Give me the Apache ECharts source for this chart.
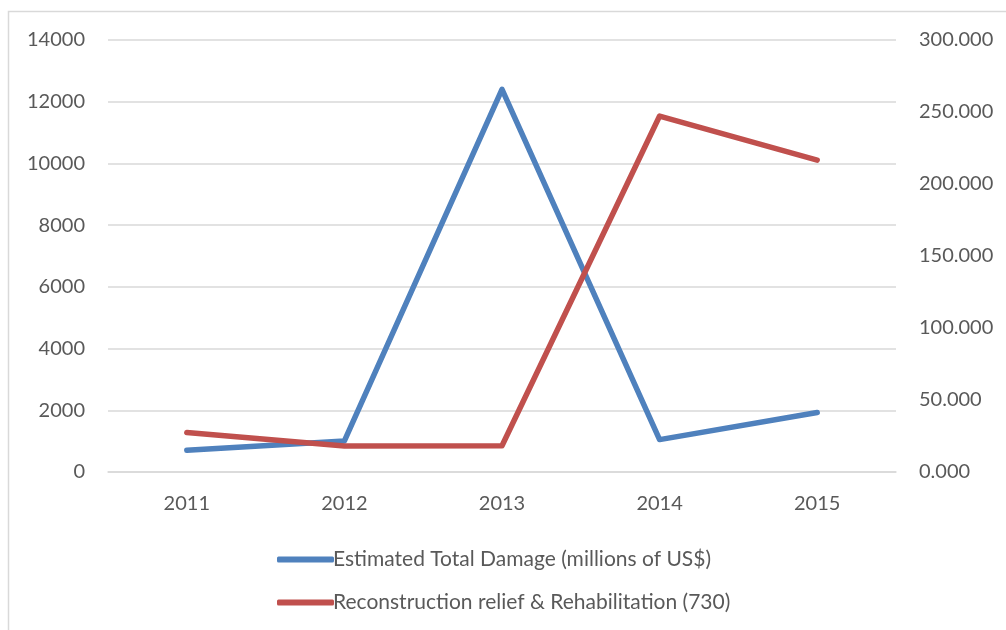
<!DOCTYPE html>
<html>
<head>
<meta charset="utf-8">
<script src="https://cdn.jsdelivr.net/npm/echarts@6/dist/echarts.min.js"></script>
<style>
  html, body { margin: 0; padding: 0; background: #ffffff; }
  #chart { width: 1006px; height: 630px; }
</style>
</head>
<body>
<div id="chart"></div>
<script>
// Years on the category axis
const years = ['2011', '2012', '2013', '2014', '2015'];

// Estimated total damage, millions of US$ (left axis)
const damageName = 'Estimated Total Damage (millions of US$)';
const damage = [705, 1005, 12400, 1050, 1930];

// Reconstruction relief & rehabilitation (right axis)
const reliefName = 'Reconstruction relief & Rehabilitation (730)';
const relief = [27.4, 18.1, 18.2, 247.2, 216.6];

// Axis tick settings
const leftMax = 14000, leftStep = 2000;
const rightMax = 300, rightStep = 50;

const textColor = '#595959';
const gridColor = '#d9d9d9';
const font = 'Lato, "Open Sans", sans-serif';

const chart = echarts.init(document.getElementById('chart'), null, { renderer: 'canvas' });

chart.setOption({
  backgroundColor: '#ffffff',
  animation: false,
  textStyle: { fontFamily: font },
  graphic: [{
    type: 'rect',
    shape: { x: 8.5, y: 11.5, width: 1010, height: 640 },
    style: { fill: 'none', stroke: gridColor, lineWidth: 1.5 },
    silent: true
  }],
  grid: { left: 108, right: 110, top: 40, bottom: 158, containLabel: false },
  legend: {
    orient: 'vertical',
    left: 272,
    top: 544,
    itemGap: 22,
    itemWidth: 57,
    itemHeight: 6,
    icon: 'roundRect',
    textStyle: { color: textColor, fontSize: 21, fontFamily: font, padding: [0, 0, 0, -6] },
    data: [damageName, reliefName]
  },
  xAxis: {
    type: 'category',
    data: years,
    boundaryGap: true,
    axisLine: { show: true, lineStyle: { color: gridColor, width: 1.5 } },
    axisTick: { show: false },
    axisLabel: { color: textColor, fontSize: 20, margin: 22 }
  },
  yAxis: [{
    type: 'value',
    min: 0,
    max: leftMax,
    interval: leftStep,
    axisLine: { show: false },
    axisTick: { show: false },
    splitLine: { lineStyle: { color: gridColor, width: 1.5 } },
    axisLabel: { color: textColor, fontSize: 20, margin: 23, formatter: v => String(v) }
  }, {
    type: 'value',
    min: 0,
    max: rightMax,
    interval: rightStep,
    position: 'right',
    axisLine: { show: false },
    axisTick: { show: false },
    splitLine: { show: false },
    axisLabel: {
      color: textColor, fontSize: 20, margin: 23,
      formatter: v => v.toFixed(3)
    }
  }],
  series: [{
    name: damageName,
    type: 'line',
    yAxisIndex: 0,
    data: damage,
    symbol: 'none',
    color: '#4f81bd',
    lineStyle: { color: '#4f81bd', width: 5.5, cap: 'round', join: 'round' }
  }, {
    name: reliefName,
    type: 'line',
    yAxisIndex: 1,
    data: relief,
    symbol: 'none',
    color: '#c0504d',
    lineStyle: { color: '#c0504d', width: 5.5, cap: 'round', join: 'round' }
  }]
});
</script>
</body>
</html>
